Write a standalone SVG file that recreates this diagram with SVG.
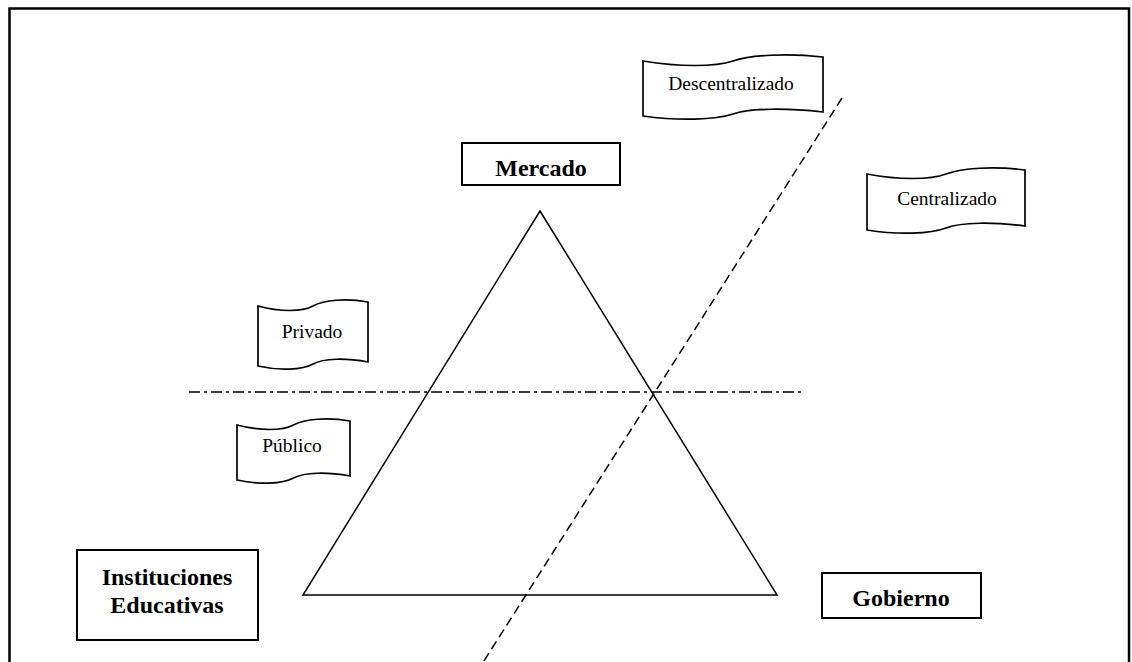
<svg xmlns="http://www.w3.org/2000/svg" width="1132" height="662" viewBox="0 0 1132 662">
<style>
.box{fill:#fff;stroke:#000;stroke-width:2}
.flag{fill:#fff;stroke:#000;stroke-width:1.7}
.bt{font-family:"Liberation Serif",serif;font-weight:bold;font-size:24px;text-anchor:middle;fill:#000}
.ft{font-family:"Liberation Serif",serif;font-size:19.5px;text-anchor:middle;fill:#000}
.line{fill:none;stroke:#000;stroke-width:1.5}
</style>
<rect x="0" y="0" width="1132" height="662" fill="#fff"/>
<rect x="9.5" y="8.5" width="1119.5" height="700" fill="none" stroke="#000" stroke-width="2.5"/>
<g id="connectors">
<polygon class="line" points="540,211 777,595 303,595"/>
<line class="line" x1="189" y1="392" x2="801" y2="392" stroke-dasharray="11,4,3,4"/>
<line class="line" x1="842" y1="98" x2="482" y2="664" stroke-dasharray="9,5"/>
</g>
<g id="mercado">
<rect class="box" x="462" y="143" width="158" height="42"/>
<text class="bt" x="541" y="176">Mercado</text>
</g>
<g id="instituciones">
<rect class="box" x="77" y="550" width="181" height="90"/>
<text class="bt" x="167" y="585">Instituciones</text>
<text class="bt" x="167" y="613">Educativas</text>
</g>
<g id="gobierno">
<rect class="box" x="822" y="573" width="159" height="45"/>
<text class="bt" x="901" y="606">Gobierno</text>
</g>
<g id="descentralizado">
<path class="flag" d="M643,61 C679,67 715,67 733,61 C751,55 787,53 823,57 L823,112 C787,108 751,108 733,114 C715,120 679,121 643,116 Z"/>
<text class="ft" x="731" y="90">Descentralizado</text>
</g>
<g id="centralizado">
<path class="flag" d="M867,174 C898.6,180 930.2,180 946,174 C961.8,168 993.4,166 1025,170 L1025,226 C993.4,222 961.8,222 946,228 C930.2,234 898.6,235 867,230 Z"/>
<text class="ft" x="947" y="205">Centralizado</text>
</g>
<g id="privado">
<path class="flag" d="M258,306 C280,312 302,312 313,306 C324,300 346,298 368,302 L368,362 C346,358 324,358 313,364 C302,370 280,371 258,366 Z"/>
<text class="ft" x="312" y="338">Privado</text>
</g>
<g id="publico">
<path class="flag" d="M237,425 C259.6,431 282.2,431 293.5,425 C304.8,419 327.4,417 350,421 L350,476 C327.4,472 304.8,472 293.5,478 C282.2,484 259.6,485 237,480 Z"/>
<text class="ft" x="292" y="452">Público</text>
</g>
</svg>
